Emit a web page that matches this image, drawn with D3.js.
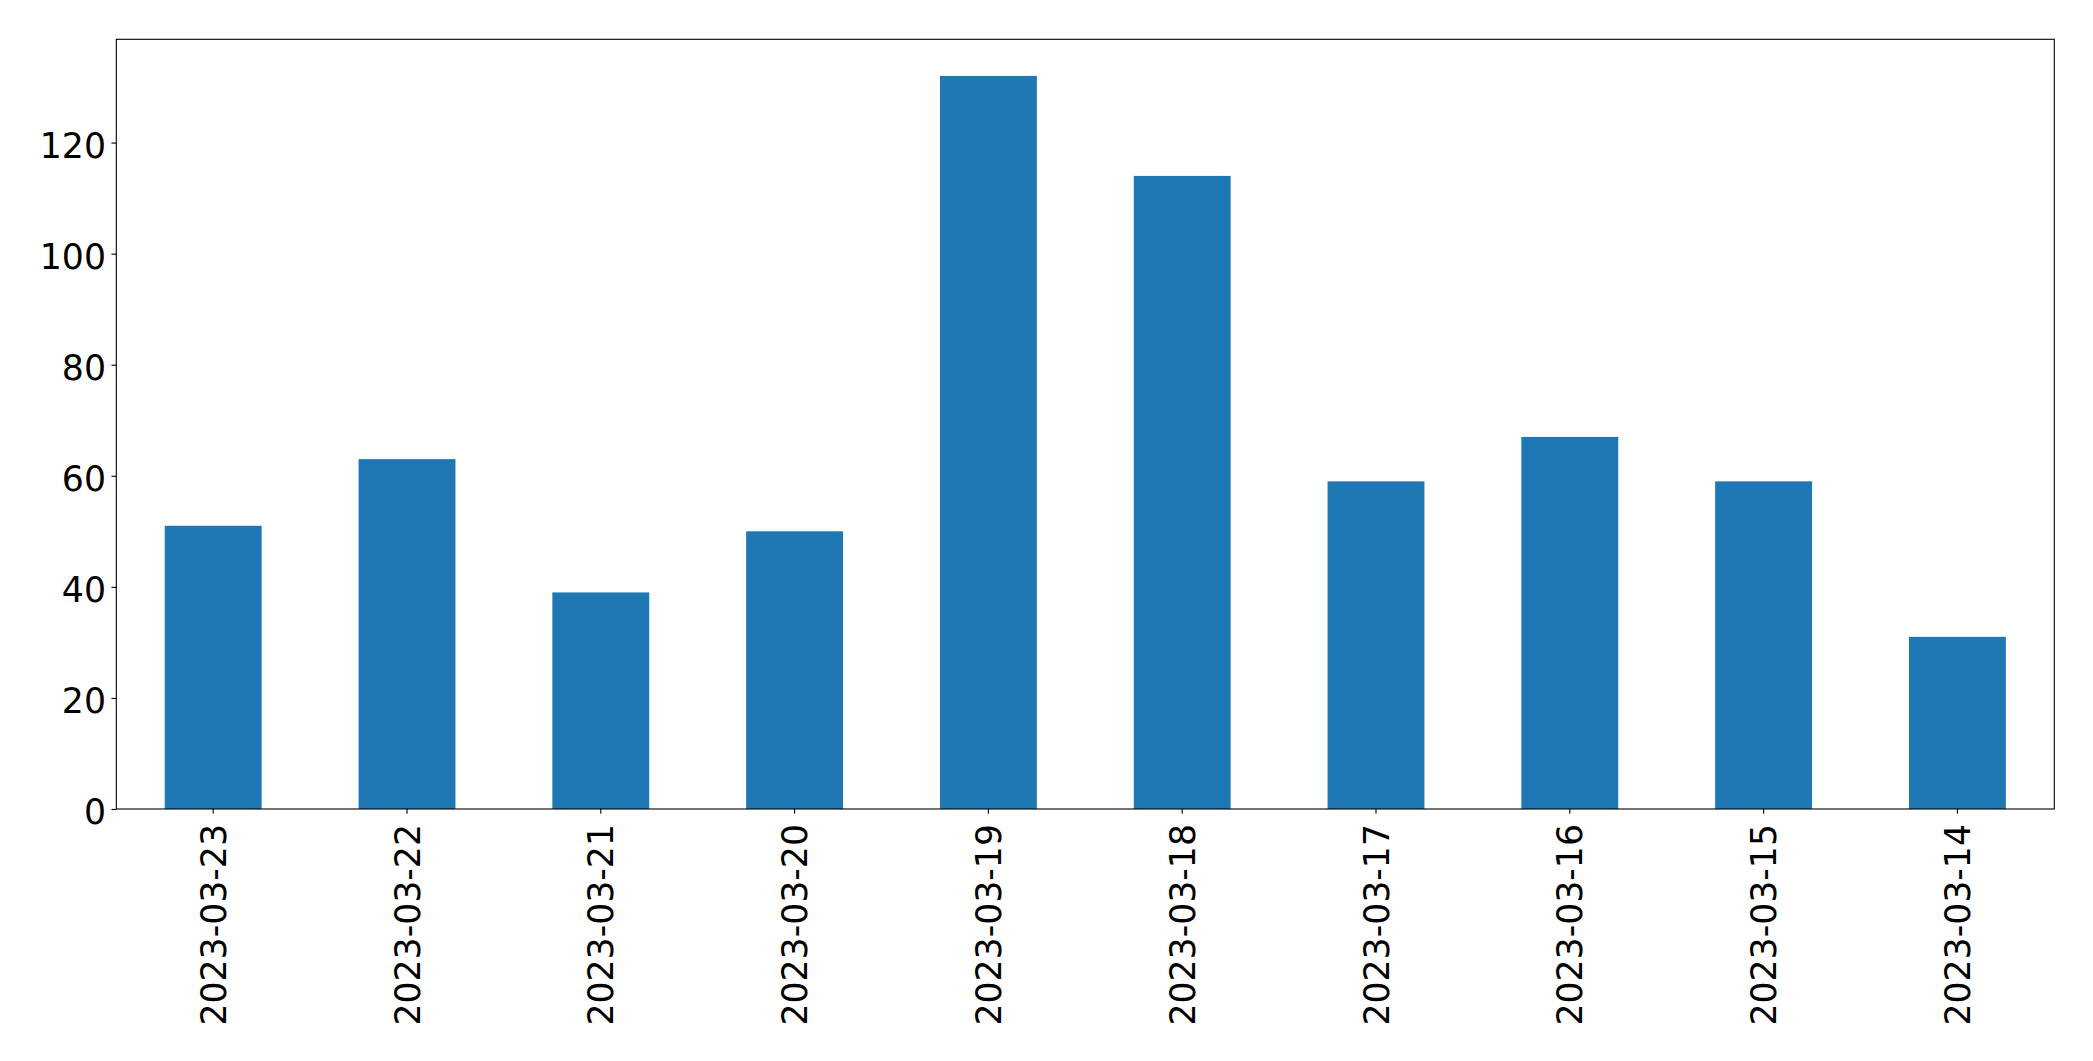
<!DOCTYPE html>
<html><head><meta charset="utf-8">
<script src="https://cdn.jsdelivr.net/npm/d3@7"></script>
<style>html,body{margin:0;padding:0;background:#fff;}</style>
</head><body>
<script>
const categories = ["2023-03-23","2023-03-22","2023-03-21","2023-03-20","2023-03-19","2023-03-18","2023-03-17","2023-03-16","2023-03-15","2023-03-14"];
const values = [51, 63, 39, 50, 132, 114, 59, 67, 59, 31];
const yTicks = [0, 20, 40, 60, 80, 100, 120];

const W = 2093, H = 1061;
const m = {left: 116.3, top: 39.3, right: 2054.3, bottom: 809};
const fs = 34.7;
const tickLen = 4.86;

const svg = d3.select("body").append("svg").attr("width", W).attr("height", H)
  .style("font-family", "'DejaVu Sans', sans-serif");

const x = d3.scaleBand().domain(categories).range([m.left, m.right]).paddingInner(0.5).paddingOuter(0.25);
const y = d3.scaleLinear().domain([0, d3.max(values) * 1.05]).range([m.bottom, m.top]);

svg.append("g").selectAll("rect").data(values).join("rect")
  .attr("x", (d, i) => x(categories[i]))
  .attr("width", x.bandwidth())
  .attr("y", d => y(d))
  .attr("height", d => y(0) - y(d))
  .attr("fill", "#1f77b4");

// Y axis
const ya = svg.append("g").attr("transform", `translate(${m.left},0)`)
  .call(d3.axisLeft(y).tickValues(yTicks).tickSize(tickLen).tickPadding(0));
ya.select(".domain").remove();
ya.selectAll(".tick line").attr("stroke", "#000").attr("stroke-width", 1.1);
ya.selectAll(".tick text").attr("x", -10.3).attr("dy", "0.42em")
  .attr("font-size", fs).attr("fill", "#000").attr("font-family", "'DejaVu Sans', sans-serif");

// X axis
const xa = svg.append("g").attr("transform", `translate(0,${m.bottom})`)
  .call(d3.axisBottom(x).tickSize(tickLen).tickPadding(0));
xa.select(".domain").remove();
xa.selectAll(".tick line").attr("stroke", "#000").attr("stroke-width", 1.1);
xa.selectAll(".tick text")
  .attr("transform", "rotate(-90)")
  .attr("x", -15).attr("y", 0).attr("dy", "0.36em")
  .attr("text-anchor", "end")
  .attr("font-size", fs).attr("fill", "#000").attr("font-family", "'DejaVu Sans', sans-serif");

// Frame
svg.append("rect").attr("x", m.left).attr("y", m.top)
  .attr("width", m.right - m.left).attr("height", m.bottom - m.top)
  .attr("fill", "none").attr("stroke", "#000").attr("stroke-width", 1.1);
</script>
</body></html>
